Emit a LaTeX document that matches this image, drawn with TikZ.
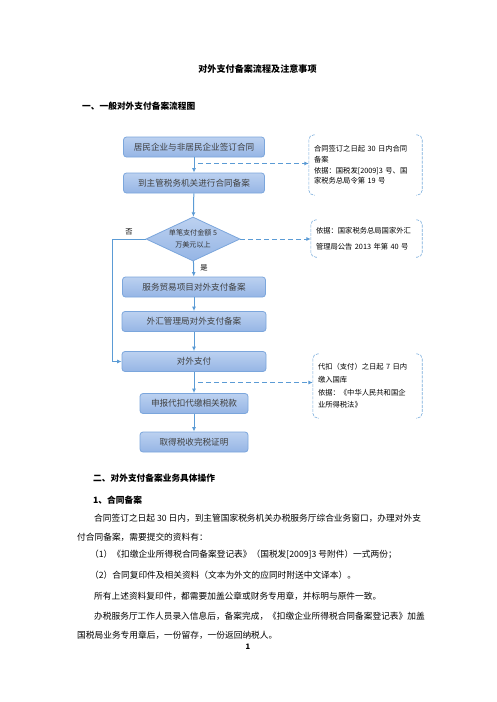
\documentclass[tikz,border=0pt]{standalone}
\usepackage{fontspec}
\setmainfont{Noto Sans CJK SC}
\usetikzlibrary{shapes.geometric,arrows.meta,calc}

\definecolor{flowblue}{HTML}{5B9BD5}
\definecolor{boxtop}{HTML}{BCD1F0}
\definecolor{boxbot}{HTML}{95B5E5}
\definecolor{boxline}{HTML}{7BA6DC}

\tikzset{
  stepbox/.style={draw=boxline, line width=0.8pt, top color=boxtop, bottom color=boxbot,
    rounded corners=3pt, minimum height=20pt, inner sep=0pt,
    font=\fontsize{8.6}{10}\selectfont, text=black!75},
  decision/.style={diamond, draw=boxline, line width=0.8pt, top color=boxtop, bottom color=boxbot,
    inner sep=0pt, minimum width=94pt, minimum height=44pt},
  notebox/.style={inner xsep=5pt, inner ysep=0pt, align=left, font=\fontsize{7.3}{10.7}\selectfont},
  bracketline/.style={draw=flowblue!80, line width=0.6pt, dash pattern=on 3pt off 1.2pt, rounded corners=5pt},
  flowarrow/.style={draw=flowblue, line width=1pt, -{Latex[length=4.5pt,width=4pt]}},
  noteline/.style={draw=flowblue, line width=1pt, dash pattern=on 5pt off 3pt, -{Latex[length=4.5pt,width=4pt]}},
  smalltext/.style={font=\fontsize{7.3}{9}\selectfont, inner sep=0pt},
  headtext/.style={font=\fontsize{8.7}{10}\selectfont\bfseries, inner sep=0pt, anchor=west},
  bodytext/.style={font=\fontsize{8.7}{10}\selectfont, inner sep=0pt, anchor=west}
}

% bracket pair round a note
\newcommand\bracketpair[1]{%
  \draw[bracketline] ([xshift=6pt]#1.north west) -- (#1.north west) -- (#1.south west) -- ([xshift=6pt]#1.south west);
  \draw[bracketline] ([xshift=-6pt]#1.north east) -- (#1.north east) -- (#1.south east) -- ([xshift=-6pt]#1.south east);}

\begin{document}
\begin{tikzpicture}[x=1pt, y=-1pt]
    \fill[white] (0,0) rectangle (496,702);
    \useasboundingbox (0,0) rectangle (496,702);

    % headings
    \node[font=\fontsize{9.1}{10}\selectfont\bfseries, inner sep=0pt] (title) at (257.5,69) {对外支付备案流程及注意事项};
    \node[headtext] (headone) at (82,106) {一、一般对外支付备案流程图};

    % flow chart
    \node[stepbox, minimum width=141pt] (sign) at (194,147) {居民企业与非居民企业签订合同};
    \node[stepbox, minimum width=141pt] (file) at (194,183) {到主管税务机关进行合同备案};
    \node[decision, label={[font=\fontsize{7.1}{12}\selectfont, align=center, text=black!80]center:单笔支付金额 5\\万美元以上}] (amount) at (193,239) {};
    \node[stepbox, minimum width=143pt] (trade) at (194,287) {服务贸易项目对外支付备案};
    \node[stepbox, minimum width=144pt] (safe) at (194,321.5) {外汇管理局对外支付备案};
    \node[stepbox, minimum width=144pt] (pay) at (194,361.5) {对外支付};
    \node[stepbox, minimum width=108pt] (declare) at (194,403.5) {申报代扣代缴相关税款};
    \node[stepbox, minimum width=108pt] (cert) at (194,442) {取得税收完税证明};

    \draw[flowarrow] (sign) -- (file);
    \draw[flowarrow] (file) -- (amount);
    \draw[flowarrow] (amount) -- (trade);
    \draw[flowarrow] (trade) -- (safe);
    \draw[flowarrow] (safe) -- (pay);
    \draw[flowarrow] (pay) -- (declare);
    \draw[flowarrow] (declare) -- (cert);
    \draw[flowarrow] (amount.west) -- ++(-33,0) |- (pay.west);
    \node[smalltext] (nolabel) at (129,232) {否};
    \node[smalltext] (yeslabel) at (204,268) {是};

    % notes
    \node[notebox, text width=103pt, minimum height=60pt] (ruleone) at (365.5,165)
        {合同签订之日起 30 日内合同\\备案\\依据：国税发[2009]3 号、国\\家税务总局令第 19 号};
    \node[notebox, text width=101pt, minimum height=37pt, font=\fontsize{7.3}{16}\selectfont] (ruletwo) at (366.5,238.5)
        {依据：国家税务总局国家外汇\\管理局公告 2013 年第 40 号};
    \node[notebox, text width=99pt, minimum height=64pt, font=\fontsize{7.3}{12.7}\selectfont] (rulethree) at (367.5,386)
        {代扣（支付）之日起 7 日内\\缴入国库\\依据：《中华人民共和国企\\业所得税法》};
    \bracketpair{ruleone}
    \bracketpair{ruletwo}
    \bracketpair{rulethree}

    \coordinate (tapone) at ($(sign.south)!0.4!(file.north)$);
    \coordinate (tapthree) at ($(pay.south)!0.5!(declare.north)$);
    \draw[noteline] ([xshift=4pt]tapone) -- (tapone -| ruleone.west);
    \draw[noteline] (amount.east) -- (amount.east -| ruletwo.west);
    \draw[noteline] ([xshift=4pt]tapthree) -- (tapthree -| rulethree.west);

    % text below the chart
    \node[headtext] (headtwo) at (93,478) {二、对外支付备案业务具体操作};
    \node[headtext] (headthree) at (93,500) {1、合同备案};
    \node[bodytext] (lineone) at (94,518) {合同签订之日起 30 日内，到主管国家税务机关办税服务厅综合业务窗口，办理对外支};
    \node[bodytext] (linetwo) at (77,537) {付合同备案，需要提交的资料有：};
    \node[bodytext] (linethree) at (90,555) {（1）《扣缴企业所得税合同备案登记表》（国税发[2009]3 号附件）一式两份；};
    \node[bodytext] (linefour) at (90,575) {（2）合同复印件及相关资料（文本为外文的应同时附送中文译本）。};
    \node[bodytext] (linefive) at (94,596) {所有上述资料复印件，都需要加盖公章或财务专用章，并标明与原件一致。};
    \node[bodytext] (linesix) at (94,616) {办税服务厅工作人员录入信息后，备案完成，《扣缴企业所得税合同备案登记表》加盖};
    \node[bodytext] (lineseven) at (77,635) {国税局业务专用章后，一份留存，一份返回纳税人。};
    \node[font=\fontsize{7.5}{9}\selectfont\bfseries, inner sep=0pt] (pagenum) at (248,647) {1};
\end{tikzpicture}
\end{document}
